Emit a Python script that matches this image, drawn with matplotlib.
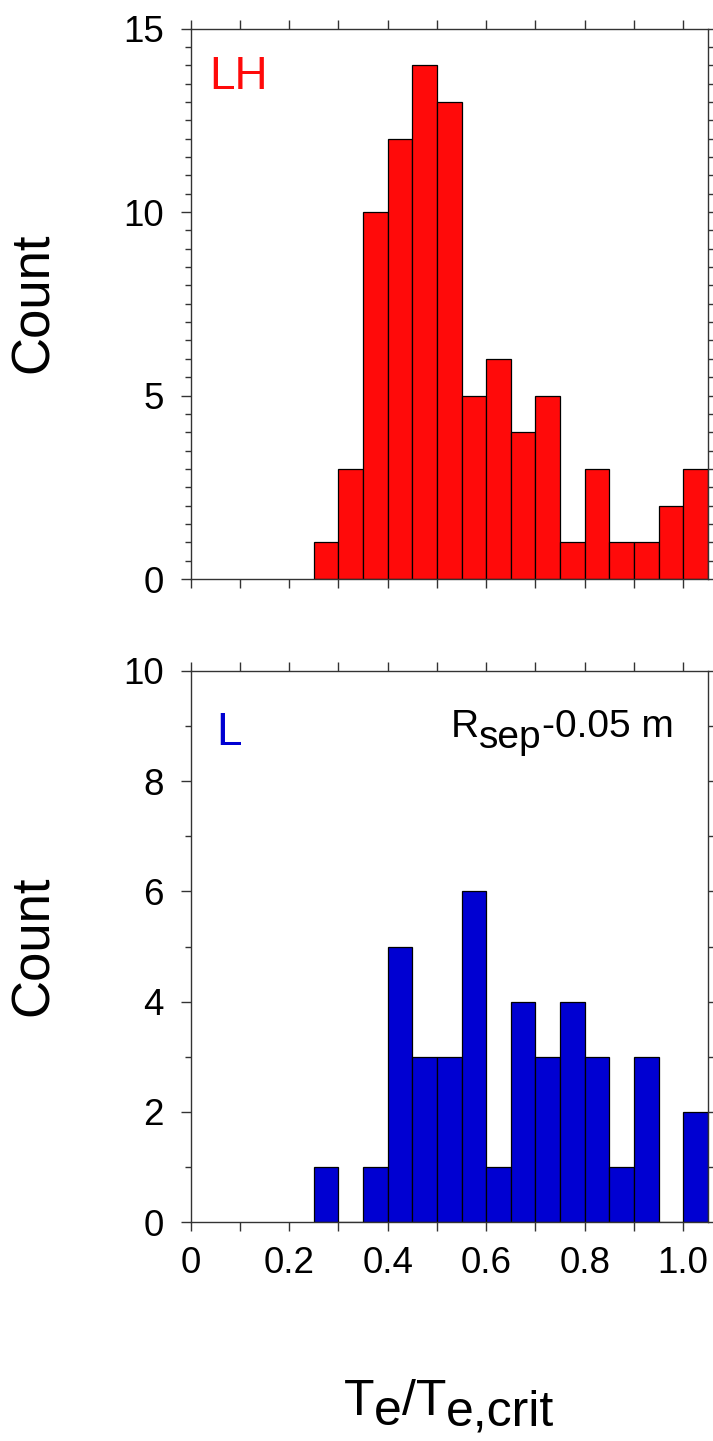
import matplotlib
matplotlib.use("Agg")
import matplotlib.pyplot as plt
from matplotlib.ticker import MultipleLocator

plt.rcParams['font.family'] = ['Liberation Sans', 'DejaVu Sans']

# ---- data ----
bin_left = [0.25, 0.30, 0.35, 0.40, 0.45, 0.50, 0.55, 0.60,
            0.65, 0.70, 0.75, 0.80, 0.85, 0.90, 0.95, 1.00]
bin_width = 0.05
lh_counts = [1, 3, 10, 12, 14, 13, 5, 6, 4, 5, 1, 3, 1, 1, 2, 3]
l_counts = [1, 0, 1, 5, 3, 3, 6, 1, 4, 3, 4, 3, 1, 3, 0, 2]
x_tick_pos = [0, 0.1, 0.2, 0.3, 0.4, 0.5, 0.6, 0.7, 0.8, 0.9, 1.0]
x_ticklabels = ['0', '', '0.2', '', '0.4', '', '0.6', '', '0.8', '', '1.0']
top_yticks = [0, 5, 10, 15]
bot_yticks = [0, 2, 4, 6, 8, 10]

W, H = 713, 1441
fig = plt.figure(figsize=(W / 100, H / 100), dpi=100)

def frac_box(left, right, top, bottom):
    return [left / W, 1 - bottom / H, (right - left) / W, (bottom - top) / H]

ax1 = fig.add_axes(frac_box(190.6, 707.8, 28.5, 579.0))
ax2 = fig.add_axes(frac_box(190.6, 707.8, 671.0, 1222.0))

red = '#FF0A0A'
blue = '#0000D2'

ax1.bar(bin_left, lh_counts, width=bin_width, align='edge', color=red,
        edgecolor='black', linewidth=0.9)
ax2.bar(bin_left, l_counts, width=bin_width, align='edge', color=blue,
        edgecolor='black', linewidth=0.9)

tick_fs = 26.5
for ax, yt, ymax, ymin_step in [(ax1, top_yticks, 15, 0.5), (ax2, bot_yticks, 10, 1)]:
    ax.set_xlim(0, 1.05)
    ax.set_ylim(0, ymax)
    ax.set_yticks(yt)
    ax.yaxis.set_minor_locator(MultipleLocator(ymin_step))
    ax.set_xticks(x_tick_pos)
    for s in ax.spines.values():
        s.set_linewidth(1.0)
        s.set_color('#333333')
    ax.tick_params(axis='x', which='both', direction='out', length=6.5, width=1.0,
                   top=True, bottom=True, color='#333333', pad=10.5, labelsize=tick_fs)
    ax.tick_params(axis='y', which='major', direction='out', length=7, width=1.0,
                   left=True, right=True, color='#333333', pad=12.5, labelsize=tick_fs)
    ax.tick_params(axis='y', which='minor', direction='out', length=4.5, width=1.0,
                   left=True, right=True, color='#333333')

ax1.set_xticklabels([])
ax2.set_xticklabels(x_ticklabels)

# panel labels
ax1.text(0.036, 0.89, 'LH', transform=ax1.transAxes, color=red, fontsize=33,
         va='baseline', ha='left')
ax2.text(0.049, 0.866, 'L', transform=ax2.transAxes, color=blue, fontsize=33,
         va='baseline', ha='left')

# y labels
fig.text(34 / W, 1 - 303 / H, 'Count', rotation=90, fontsize=38, va='center', ha='center')
fig.text(34 / W, 1 - 946 / H, 'Count', rotation=90, fontsize=38, va='center', ha='center')

# rich text with lowered (subscript) parts
fig.canvas.draw()
renderer = fig.canvas.get_renderer()

def rich(x_px, base_px, parts, center=False):
    texts = []
    x = x_px
    for s, fs, dy in parts:
        t = fig.text(x / W, 1 - (base_px + dy) / H, s, fontsize=fs,
                     va='baseline', ha='left')
        bb = t.get_window_extent(renderer)
        x = bb.x1
        texts.append((t, base_px + dy))
    if center:
        shift = (x - x_px) / 2
        for t, b in texts:
            px, _ = t.get_position()
            t.set_position((px - shift / W, 1 - b / H))

rich(451, 737, [('R', 28, 0), ('sep', 28, 11), ('-0.05 m', 28, 0)])
rich(449, 1415, [('T', 36, 0), ('e', 36, 10), ('/T', 36, 0), ('e,crit', 36, 10)],
     center=True)

fig.savefig('out.png', dpi=100)
